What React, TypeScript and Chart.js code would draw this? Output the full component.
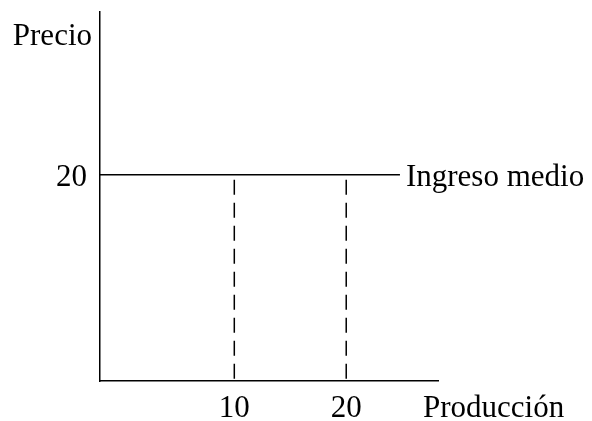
import { useEffect, useRef } from 'react';
import { Chart, ChartConfiguration, registerables } from 'chart.js';

Chart.register(...registerables);

// Quantities marked on the output axis and the price level
const outputTicks = [10, 20];
const priceTicks = [20];
const avgRevenueX = [-2, 24.8];
const avgRevenueY = [20, 20];
const dropLineTop = 20;
const dropLineBottom = 0;

const xRange = { min: -2, max: 28.2 };
const yRange = { min: 0, max: 35.8 };

const FONT = "'Liberation Serif', 'Times New Roman', serif";
const FONT_SIZE = 31;

// Draws the free labels: axis names and the curve name
const labelsPlugin = {
  id: 'econLabels',
  afterDraw(chart: Chart) {
    const { ctx, scales } = chart;
    const x = scales.x;
    const y = scales.y;
    ctx.save();
    ctx.fillStyle = '#000';
    ctx.font = `${FONT_SIZE}px ${FONT}`;
    ctx.textBaseline = 'middle';

    // "Precio" to the left of the top of the vertical axis
    ctx.textAlign = 'right';
    ctx.fillText('Precio', x.left - 8, y.top + 25);

    // curve name right after the end of the average revenue line
    const endX = x.getPixelForValue(avgRevenueX[avgRevenueX.length - 1]);
    const endY = y.getPixelForValue(avgRevenueY[avgRevenueY.length - 1]);
    ctx.textAlign = 'left';
    ctx.fillText('Ingreso medio', endX + 6, endY + 3);

    // "Producción" after the end of the horizontal axis
    ctx.fillText('Producción', x.right - 15, y.bottom + 28);
    ctx.restore();
  }
};

export default function App() {
  const canvasRef = useRef<HTMLCanvasElement>(null);
  const chartRef = useRef<Chart | null>(null);

  useEffect(() => {
    if (!canvasRef.current) return;
    if (chartRef.current) chartRef.current.destroy();

    const dropLines = outputTicks.map(q => ({
      label: `q${q}`,
      data: [
        { x: q, y: dropLineTop },
        { x: q, y: dropLineBottom }
      ],
      borderColor: '#000',
      borderWidth: 1.5,
      borderDash: [15, 8],
      borderDashOffset: 18,
      pointRadius: 0,
      showLine: true,
      clip: false as const
    }));

    const config: ChartConfiguration = {
      type: 'scatter',
      data: {
        datasets: [
          {
            label: 'Ingreso medio',
            data: avgRevenueX.map((v, i) => ({ x: v, y: avgRevenueY[i] })),
            borderColor: '#000',
            borderWidth: 1.5,
            pointRadius: 0,
            showLine: true,
            clip: false
          },
          ...dropLines
        ]
      },
      options: {
        animation: false,
        responsive: true,
        maintainAspectRatio: false,
        layout: { padding: { left: 0, top: 12, right: 154, bottom: 0 } },
        plugins: {
          legend: { display: false },
          tooltip: { enabled: false }
        },
        scales: {
          x: {
            type: 'linear',
            min: xRange.min,
            max: xRange.max,
            afterBuildTicks: scale => {
              scale.ticks = outputTicks.map(v => ({ value: v }));
            },
            afterFit: scale => {
              scale.height = 40;
              scale.paddingLeft = 0;
              scale.paddingRight = 0;
            },
            grid: { display: false, drawTicks: false },
            border: { display: true, color: '#000', width: 1.5 },
            ticks: {
              autoSkip: false,
              maxRotation: 0,
              padding: 9,
              color: '#000',
              font: { family: FONT, size: FONT_SIZE }
            }
          },
          y: {
            type: 'linear',
            min: yRange.min,
            max: yRange.max,
            afterBuildTicks: scale => {
              scale.ticks = priceTicks.map(v => ({ value: v }));
            },
            afterFit: scale => {
              scale.width = 100;
              scale.paddingTop = 0;
              scale.paddingBottom = 0;
            },
            grid: { display: false, drawTicks: false },
            border: { display: true, color: '#000', width: 1.5 },
            ticks: {
              autoSkip: false,
              padding: 13,
              color: '#000',
              // empty first line with a tiny line height nudges the digits down a few px
              callback: value => ['', String(value)],
              font: { family: FONT, size: FONT_SIZE, lineHeight: 0.2 }
            }
          }
        }
      },
      plugins: [labelsPlugin]
    };

    chartRef.current = new Chart(canvasRef.current, config);

    return () => {
      if (chartRef.current) {
        chartRef.current.destroy();
        chartRef.current = null;
      }
    };
  }, []);

  return (
    <div style={{ position: 'fixed', left: 0, top: 0, width: 592, height: 421, background: '#fff' }}>
      <canvas ref={canvasRef}></canvas>
    </div>
  );
}
